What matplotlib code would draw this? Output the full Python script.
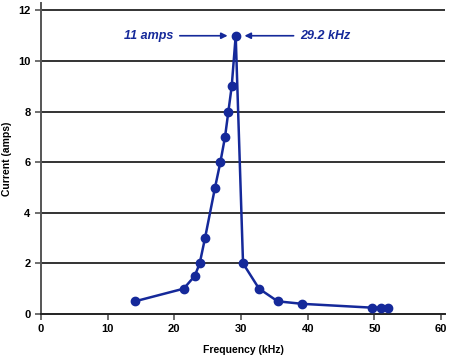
import matplotlib.pyplot as plt

# data
freq_khz = [14.1, 21.4, 23.05, 23.8, 24.6, 26.1, 26.9, 27.6, 28.1, 28.6, 29.2,
            30.3, 32.7, 35.5, 39.2, 49.6, 51.0, 52.1]
current_amps = [0.5, 1.0, 1.5, 2.0, 3.0, 5.0, 6.0, 7.0, 8.0, 9.0, 11.0,
                2.0, 1.0, 0.5, 0.4, 0.25, 0.25, 0.25]
x_ticks = [0, 10, 20, 30, 40, 50, 60]
y_ticks = [0, 2, 4, 6, 8, 10, 12]

navy = "#15299a"

plt.rcParams["font.family"] = ["Liberation Sans", "DejaVu Sans"]

fig = plt.figure(figsize=(4.53, 3.58), dpi=100)
ax = fig.add_axes([0.0905, 0.123, 0.892, 0.869])

# horizontal grid lines
for y in y_ticks[1:]:
    ax.axhline(y, color="#333333", lw=1.4, zorder=1)

ax.plot(freq_khz, current_amps, color=navy, lw=1.8, marker="o", ms=6, zorder=3)

# peak annotations
ax.annotate("", xy=(28.4, 11), xytext=(20.4, 11),
            arrowprops=dict(arrowstyle="-|>", color=navy, lw=1.2, mutation_scale=9))
ax.annotate("", xy=(30.1, 11), xytext=(38.3, 11),
            arrowprops=dict(arrowstyle="-|>", color=navy, lw=1.2, mutation_scale=9))
ax.text(19.8, 11, "11 amps", color=navy, fontsize=9, fontweight="bold",
        fontstyle="italic", ha="right", va="center")
ax.text(38.9, 11, "29.2 kHz", color=navy, fontsize=9, fontweight="bold",
        fontstyle="italic", ha="left", va="center")

ax.set_xlim(0, 60.6)
ax.set_ylim(0, 12.3)
ax.set_xticks(x_ticks)
ax.set_yticks(y_ticks)
ax.tick_params(labelsize=8, width=1.2, length=4, color="#555555")
for lab in ax.get_xticklabels() + ax.get_yticklabels():
    lab.set_fontweight("bold")

ax.spines["top"].set_visible(False)
ax.spines["right"].set_visible(False)
ax.spines["left"].set_color("#555555")
ax.spines["bottom"].set_color("#222222")
ax.spines["left"].set_linewidth(1.4)
ax.spines["bottom"].set_linewidth(1.4)

ax.set_xlabel("Frequency (kHz)", fontsize=7.5, fontweight="bold")
ax.set_ylabel("Current (amps)", fontsize=7.5, fontweight="bold")
ax.xaxis.set_label_coords(0.5, -0.10)
ax.yaxis.set_label_coords(-0.072, 0.5)

fig.savefig("out.png", dpi=100)
